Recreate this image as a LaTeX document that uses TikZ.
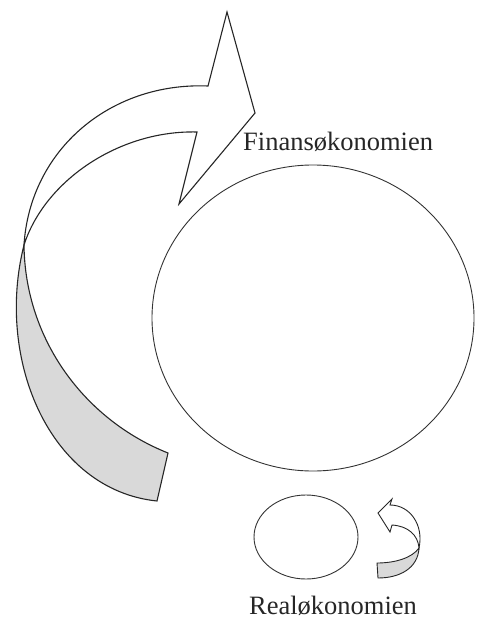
\documentclass[tikz,border=0pt]{standalone}
\usepackage{fontspec}
\setmainfont{Liberation Serif}
\begin{document}
\begin{tikzpicture}[x=1pt,y=-1pt,
  outline/.style={draw=black!85,line width=1.1pt,line join=miter},
  backside/.style={outline,fill=black!15},
  frontside/.style={outline,fill=white},
  ring/.style={draw=black!80,line width=0.9pt},
  label/.style={font=\fontsize{26.5}{30}\selectfont,inner sep=0pt,text=black!85}]
\useasboundingbox (0,0) rectangle (476,620);
% big ellipse and small ellipse
\draw[ring] (313,318) ellipse [x radius=161, y radius=153];
\draw[ring] (306,537) ellipse [x radius=52, y radius=42];
% big curved arrow: back (gray) part
\coordinate (c) at (24,245);
\draw[backside] (c) .. controls (-5,360) and (50,490) .. (157,501)
  -- (168,453) .. controls (85,420) and (25,340) .. (c) -- cycle;
% big curved arrow: front part with head
\draw[frontside] (c) .. controls (30,150) and (110,82) .. (208,86)
  -- (227,12) -- (255,113) -- (179,204) -- (197,132)
  .. controls (120,130) and (45,180) .. (c) -- cycle;
% small curved arrow: back (gray) part
\coordinate (s) at (419,548);
\draw[backside,line width=0.9pt] (s) .. controls (418,568) and (400,578) .. (378,578)
  -- (377,563) .. controls (395,563) and (412,558) .. (s) -- cycle;
% small curved arrow: front part with head
\draw[frontside,line width=0.9pt] (s) .. controls (424,525) and (410,505) .. (390,505)
  -- (392,499) -- (378,513) -- (390,532) -- (392,525)
  .. controls (408,526) and (418,535) .. (s) -- cycle;
% labels
\node[label,anchor=base west] (fin) at (243,151) {Finansøkonomien};
\node[label,anchor=base] (real) at (333,614) {Realøkonomien};
\end{tikzpicture}
\end{document}
